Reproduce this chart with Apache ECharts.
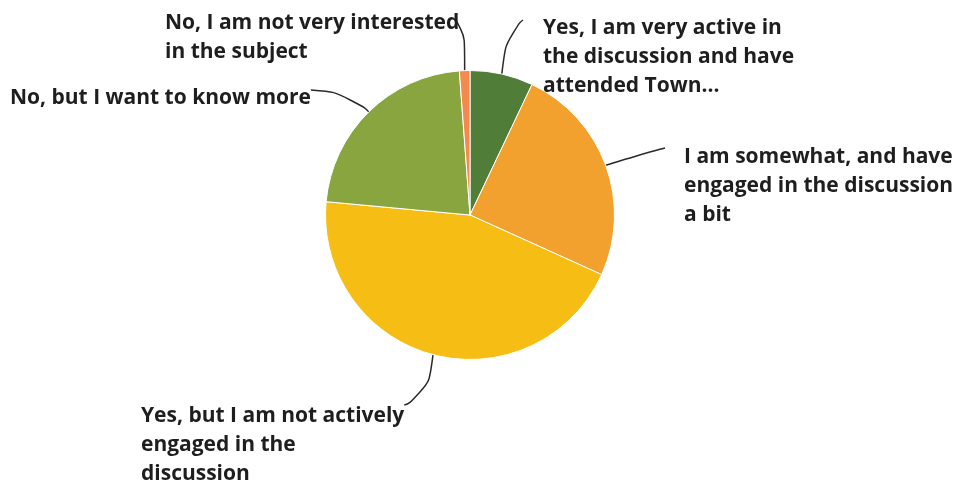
<!DOCTYPE html>
<html>
<head>
<meta charset="utf-8">
<script src="https://cdn.jsdelivr.net/npm/echarts@6/dist/echarts.min.js"></script>
<style>
  html, body { margin: 0; padding: 0; background: #fff; }
  #chart { width: 967px; height: 481px; }
</style>
</head>
<body>
<div id="chart"></div>
<script>
// Survey answers, clockwise from 12 o'clock
const categories = [
  'Yes, I am very active in\nthe discussion and have\nattended Town...',
  'I am somewhat, and have\nengaged in the discussion\na bit',
  'Yes, but I am not actively\nengaged in the\ndiscussion',
  'No, but I want to know more',
  'No, I am not very interested\nin the subject'
];
const responses = [6, 21, 38, 19, 1];
const sliceColors = ['#507D37', '#F2A12E', '#F6BE14', '#88A540', '#F58A4E'];

// Label box placement (top-left corner of each text block)
const labelSpots = [
  [543, 14],
  [684, 143],
  [141, 402],
  [10, 84],
  [165, 9]
];

// Leader line end: which side of the text it meets, plus a small offset,
// and where the bend sits between the slice edge and the end (fractions)
const leaderEnds = [
  { side: 'left',  dx: -20, dy: 6,  bend: [0.25, 0.8] },
  { side: 'left',  dx: -19, dy: 5,  bend: [0.5, 0.6] },
  { side: 'right', dx: 0,   dy: 3,  bend: [0.2, 0.9] },
  { side: 'right', dx: 0,   dy: 6,  bend: [0.26, 0.85] },
  { side: 'right', dx: -5,  dy: 10, bend: [0.0, 0.85] }
];

const chart = echarts.init(document.getElementById('chart'));
chart.setOption({
  animation: false,
  series: [{
    type: 'pie',
    center: [470, 215],
    radius: 144.5,
    startAngle: 90,
    clockwise: true,
    data: categories.map((name, i) => ({
      name,
      value: responses[i],
      itemStyle: { color: sliceColors[i] }
    })),
    itemStyle: { borderColor: '#ffffff', borderWidth: 1 },
    label: {
      show: true,
      formatter: '{b}',
      fontFamily: 'Open Sans',
      fontWeight: 700,
      fontSize: 21,
      lineHeight: 29,
      color: '#1e1e1e',
      align: 'left'
    },
    labelLine: {
      show: true,
      smooth: 0.8,
      lineStyle: { color: '#2a2a2a', width: 1.5 }
    },
    labelLayout: function (params) {
      const i = params.dataIndex;
      const p = labelSpots[i];
      const lead = leaderEnds[i];
      const start = params.labelLinePoints[0];
      const endX = (lead.side === 'left' ? p[0] : p[0] + params.labelRect.width) + lead.dx;
      const endY = p[1] + lead.dy;
      const mid = [
        start[0] + (endX - start[0]) * lead.bend[0],
        start[1] + (endY - start[1]) * lead.bend[1]
      ];
      return {
        x: p[0], y: p[1], align: 'left', verticalAlign: 'top',
        labelLinePoints: [start, mid, [endX, endY]]
      };
    }
  }]
});
</script>
</body>
</html>
